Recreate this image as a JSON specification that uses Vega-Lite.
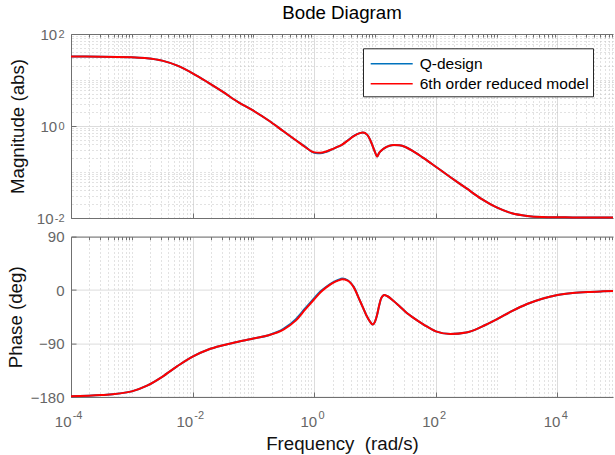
{
  "$schema": "https://vega.github.io/schema/vega-lite/v6.json",
  "background": "white",
  "padding": {"left": 6, "top": 4, "right": 0, "bottom": 0},
  "config": {
    "font": "Liberation Sans",
    "view": {"stroke": null},
    "axis": {"labelFont": "Liberation Sans", "titleFont": "Liberation Sans", "labelColor": "#666666", "labelFontSize": 15, "titleFontSize": 18.7, "titleFontWeight": "normal", "titleColor": "#111111", "domainColor": "#707070", "tickColor": "#707070", "gridColor": "#dcdcdc", "gridOpacity": 1, "labelFlush": false, "labelOverlap": false},
    "title": {"font": "Liberation Sans", "fontSize": 18.7, "fontWeight": "normal", "color": "#000000"}
  },
  "datasets": {
    "bode": [
      {"w": 0.0001, "mag": 32.3, "ph": -178.6, "model": "Q-design"},
      {"w": 0.000316, "mag": 32.2, "ph": -176.8, "model": "Q-design"},
      {"w": 0.001, "mag": 31.1, "ph": -170.5, "model": "Q-design"},
      {"w": 0.00178, "mag": 29.8, "ph": -161, "model": "Q-design"},
      {"w": 0.00316, "mag": 26.4, "ph": -146, "model": "Q-design"},
      {"w": 0.00562, "mag": 20.5, "ph": -128, "model": "Q-design"},
      {"w": 0.01, "mag": 14.0, "ph": -112, "model": "Q-design"},
      {"w": 0.0178, "mag": 8.9, "ph": -100.5, "model": "Q-design"},
      {"w": 0.0316, "mag": 5.5, "ph": -93, "model": "Q-design"},
      {"w": 0.0562, "mag": 3.3, "ph": -87, "model": "Q-design"},
      {"w": 0.1, "mag": 2.15, "ph": -81.5, "model": "Q-design"},
      {"w": 0.178, "mag": 1.32, "ph": -76, "model": "Q-design"},
      {"w": 0.316, "mag": 0.76, "ph": -65, "model": "Q-design"},
      {"w": 0.5, "mag": 0.49, "ph": -49, "model": "Q-design"},
      {"w": 0.708, "mag": 0.355, "ph": -31, "model": "Q-design"},
      {"w": 1.0, "mag": 0.262, "ph": -13.5, "model": "Q-design"},
      {"w": 1.26, "mag": 0.255, "ph": -2.5, "model": "Q-design"},
      {"w": 1.58, "mag": 0.275, "ph": 5.5, "model": "Q-design"},
      {"w": 2.0, "mag": 0.315, "ph": 12.5, "model": "Q-design"},
      {"w": 2.51, "mag": 0.36, "ph": 17.3, "model": "Q-design"},
      {"w": 2.88, "mag": 0.395, "ph": 19.5, "model": "Q-design"},
      {"w": 3.55, "mag": 0.485, "ph": 16.5, "model": "Q-design"},
      {"w": 4.47, "mag": 0.61, "ph": 5.5, "model": "Q-design"},
      {"w": 5.62, "mag": 0.70, "ph": -17.5, "model": "Q-design"},
      {"w": 6.31, "mag": 0.72, "ph": -29, "model": "Q-design"},
      {"w": 7.41, "mag": 0.65, "ph": -45, "model": "Q-design"},
      {"w": 8.32, "mag": 0.50, "ph": -53.5, "model": "Q-design"},
      {"w": 9.12, "mag": 0.37, "ph": -57.8, "model": "Q-design"},
      {"w": 10.0, "mag": 0.27, "ph": -53, "model": "Q-design"},
      {"w": 10.8, "mag": 0.218, "ph": -42, "model": "Q-design"},
      {"w": 11.7, "mag": 0.26, "ph": -26, "model": "Q-design"},
      {"w": 12.6, "mag": 0.29, "ph": -14, "model": "Q-design"},
      {"w": 14.3, "mag": 0.33, "ph": -8.4, "model": "Q-design"},
      {"w": 15.8, "mag": 0.355, "ph": -10, "model": "Q-design"},
      {"w": 20.0, "mag": 0.386, "ph": -18, "model": "Q-design"},
      {"w": 25.1, "mag": 0.38, "ph": -27, "model": "Q-design"},
      {"w": 31.6, "mag": 0.35, "ph": -36.4, "model": "Q-design"},
      {"w": 44.7, "mag": 0.27, "ph": -48, "model": "Q-design"},
      {"w": 63.1, "mag": 0.20, "ph": -58, "model": "Q-design"},
      {"w": 100, "mag": 0.13, "ph": -69.5, "model": "Q-design"},
      {"w": 174, "mag": 0.077, "ph": -74, "model": "Q-design"},
      {"w": 316, "mag": 0.0445, "ph": -71.5, "model": "Q-design"},
      {"w": 562, "mag": 0.026, "ph": -62, "model": "Q-design"},
      {"w": 1000, "mag": 0.017, "ph": -49.5, "model": "Q-design"},
      {"w": 1778, "mag": 0.0127, "ph": -35.5, "model": "Q-design"},
      {"w": 3162, "mag": 0.0111, "ph": -23.5, "model": "Q-design"},
      {"w": 5623, "mag": 0.0105, "ph": -14.5, "model": "Q-design"},
      {"w": 10000, "mag": 0.01035, "ph": -8.4, "model": "Q-design"},
      {"w": 17780, "mag": 0.0103, "ph": -5, "model": "Q-design"},
      {"w": 31620, "mag": 0.0102, "ph": -3.2, "model": "Q-design"},
      {"w": 56230, "mag": 0.0102, "ph": -2.2, "model": "Q-design"},
      {"w": 82000, "mag": 0.0102, "ph": -1.7, "model": "Q-design"},
      {"w": 0.0001, "mag": 32.3, "ph": -178.6, "model": "6th order reduced model"},
      {"w": 0.000316, "mag": 32.2, "ph": -176.8, "model": "6th order reduced model"},
      {"w": 0.001, "mag": 31.1, "ph": -170.5, "model": "6th order reduced model"},
      {"w": 0.00178, "mag": 29.8, "ph": -161, "model": "6th order reduced model"},
      {"w": 0.00316, "mag": 26.4, "ph": -146, "model": "6th order reduced model"},
      {"w": 0.00562, "mag": 20.5, "ph": -128, "model": "6th order reduced model"},
      {"w": 0.01, "mag": 14.0, "ph": -112, "model": "6th order reduced model"},
      {"w": 0.0178, "mag": 8.9, "ph": -100.5, "model": "6th order reduced model"},
      {"w": 0.0316, "mag": 5.5, "ph": -93, "model": "6th order reduced model"},
      {"w": 0.0562, "mag": 3.3, "ph": -87, "model": "6th order reduced model"},
      {"w": 0.1, "mag": 2.15, "ph": -81.5, "model": "6th order reduced model"},
      {"w": 0.178, "mag": 1.32, "ph": -76, "model": "6th order reduced model"},
      {"w": 0.316, "mag": 0.76, "ph": -66, "model": "6th order reduced model"},
      {"w": 0.5, "mag": 0.49, "ph": -51, "model": "6th order reduced model"},
      {"w": 0.708, "mag": 0.35, "ph": -33, "model": "6th order reduced model"},
      {"w": 1.0, "mag": 0.267, "ph": -15.5, "model": "6th order reduced model"},
      {"w": 1.26, "mag": 0.262, "ph": -4, "model": "6th order reduced model"},
      {"w": 1.58, "mag": 0.28, "ph": 4.5, "model": "6th order reduced model"},
      {"w": 2.0, "mag": 0.315, "ph": 11.8, "model": "6th order reduced model"},
      {"w": 2.51, "mag": 0.36, "ph": 16.3, "model": "6th order reduced model"},
      {"w": 2.88, "mag": 0.395, "ph": 18, "model": "6th order reduced model"},
      {"w": 3.55, "mag": 0.48, "ph": 15.8, "model": "6th order reduced model"},
      {"w": 4.47, "mag": 0.60, "ph": 4.5, "model": "6th order reduced model"},
      {"w": 5.62, "mag": 0.70, "ph": -17.5, "model": "6th order reduced model"},
      {"w": 6.31, "mag": 0.72, "ph": -29, "model": "6th order reduced model"},
      {"w": 7.41, "mag": 0.65, "ph": -45, "model": "6th order reduced model"},
      {"w": 8.32, "mag": 0.50, "ph": -53.5, "model": "6th order reduced model"},
      {"w": 9.12, "mag": 0.37, "ph": -57.8, "model": "6th order reduced model"},
      {"w": 10.0, "mag": 0.27, "ph": -53, "model": "6th order reduced model"},
      {"w": 10.8, "mag": 0.218, "ph": -42, "model": "6th order reduced model"},
      {"w": 11.7, "mag": 0.26, "ph": -26, "model": "6th order reduced model"},
      {"w": 12.6, "mag": 0.29, "ph": -14, "model": "6th order reduced model"},
      {"w": 14.3, "mag": 0.33, "ph": -8.4, "model": "6th order reduced model"},
      {"w": 15.8, "mag": 0.355, "ph": -10, "model": "6th order reduced model"},
      {"w": 20.0, "mag": 0.386, "ph": -18, "model": "6th order reduced model"},
      {"w": 25.1, "mag": 0.38, "ph": -27, "model": "6th order reduced model"},
      {"w": 31.6, "mag": 0.35, "ph": -36.4, "model": "6th order reduced model"},
      {"w": 44.7, "mag": 0.27, "ph": -48, "model": "6th order reduced model"},
      {"w": 63.1, "mag": 0.20, "ph": -58, "model": "6th order reduced model"},
      {"w": 100, "mag": 0.13, "ph": -69.5, "model": "6th order reduced model"},
      {"w": 174, "mag": 0.077, "ph": -74, "model": "6th order reduced model"},
      {"w": 316, "mag": 0.0445, "ph": -71.5, "model": "6th order reduced model"},
      {"w": 562, "mag": 0.026, "ph": -62, "model": "6th order reduced model"},
      {"w": 1000, "mag": 0.017, "ph": -49.5, "model": "6th order reduced model"},
      {"w": 1778, "mag": 0.0127, "ph": -35.5, "model": "6th order reduced model"},
      {"w": 3162, "mag": 0.0111, "ph": -23.5, "model": "6th order reduced model"},
      {"w": 5623, "mag": 0.0105, "ph": -14.5, "model": "6th order reduced model"},
      {"w": 10000, "mag": 0.01035, "ph": -8.4, "model": "6th order reduced model"},
      {"w": 17780, "mag": 0.0103, "ph": -5, "model": "6th order reduced model"},
      {"w": 31620, "mag": 0.0102, "ph": -3.2, "model": "6th order reduced model"},
      {"w": 56230, "mag": 0.0102, "ph": -2.2, "model": "6th order reduced model"},
      {"w": 82000, "mag": 0.0102, "ph": -1.7, "model": "6th order reduced model"}
    ]
  },
  "spacing": 18.6,
  "bounds": "flush",
  "resolve": {"legend": {"color": "independent"}},
  "vconcat": [
    {
      "width": 542,
      "height": 184,
      "title": {"text": "Bode Diagram", "anchor": "middle", "offset": 4},
      "data": {"name": "bode"},
      "layer": [
        {
          "mark": {"type": "line", "strokeWidth": 2, "interpolate": "monotone"},
          "encoding": {
            "x": {"field": "w", "type": "quantitative", "scale": {"type": "log", "domain": [0.0001, 82000], "nice": false},
                  "axis": {"orient": "bottom", "values": [0.0001, 0.01, 1, 100, 10000], "grid": true, "labels": false, "ticks": true, "tickSize": -5, "domain": true, "title": null}},
            "y": {"field": "mag", "type": "quantitative", "scale": {"type": "log", "domain": [0.01, 100], "nice": false},
                  "axis": {"orient": "left", "values": [0.01, 1, 100], "grid": true, "ticks": true, "tickSize": -5, "domain": true,
                           "labelPadding": {"condition": {"test": "datum.value < 0.1", "value": 23}, "value": 19.3},
                           "labelDy": 2, "labelExpr": "'10'",
                           "title": "Magnitude (abs)", "titlePadding": 9}},
            "color": {"field": "model", "type": "nominal",
                      "scale": {"domain": ["Q-design", "6th order reduced model"], "range": ["#0072BD", "#FF0000"]},
                      "legend": {"orient": "none", "legendX": 292, "legendY": 14.3, "title": null, "symbolType": "M-2,0L2,0", "symbolSize": 441, "symbolStrokeWidth": 1.5, "symbolOffset": 13.2, "labelFontSize": 15.5, "labelFont": "Liberation Sans", "labelColor": "#000000", "strokeColor": "#262626", "fillColor": "white", "padding": 4, "rowPadding": -2.3, "labelOffset": 16.5, "labelLimit": 400}}
          }
        },
        {
          "mark": {"type": "line", "opacity": 0},
          "encoding": {
            "x": {"field": "w", "type": "quantitative",
                  "axis": {"orient": "top", "values": [0.0002, 0.0003, 0.0004, 0.0005, 0.0006, 0.0007, 0.0008, 0.0009, 0.001, 0.002, 0.003, 0.004, 0.005, 0.006, 0.007, 0.008, 0.009, 0.02, 0.03, 0.04, 0.05, 0.06, 0.07, 0.08, 0.09, 0.1, 0.2, 0.3, 0.4, 0.5, 0.6, 0.7, 0.8, 0.9, 2, 3, 4, 5, 6, 7, 8, 9, 10, 20, 30, 40, 50, 60, 70, 80, 90, 200, 300, 400, 500, 600, 700, 800, 900, 1000, 2000, 3000, 4000, 5000, 6000, 7000, 8000, 9000, 20000, 30000, 40000, 50000, 60000, 70000, 80000],
                           "grid": true, "gridColor": "#c4c4c4", "gridDash": [1, 3], "labels": false, "ticks": true, "tickSize": -3, "domain": true, "title": null}},
            "y": {"field": "mag", "type": "quantitative",
                  "axis": {"orient": "right", "values": [0.02, 0.03, 0.04, 0.05, 0.06, 0.07, 0.08, 0.09, 0.1, 0.2, 0.3, 0.4, 0.5, 0.6, 0.7, 0.8, 0.9, 2, 3, 4, 5, 6, 7, 8, 9, 10, 20, 30, 40, 50, 60, 70, 80, 90],
                           "grid": true, "gridColor": "#c4c4c4", "gridDash": [1, 3], "labels": false, "ticks": false, "domain": false, "title": null}},
            "detail": {"field": "model"}
          }
        },
        {
          "mark": {"type": "line", "opacity": 0},
          "encoding": {
            "x": {"field": "w", "type": "quantitative", "axis": null},
            "y": {"field": "mag", "type": "quantitative",
                  "axis": {"orient": "left", "values": [0.01, 1, 100], "grid": false, "ticks": false, "domain": false,
                           "labelPadding": 7, "labelFontSize": 11, "labelDy": -5,
                           "labelExpr": "datum.value < 0.1 ? '-2' : datum.value < 10 ? '0' : '2'", "title": null}},
            "detail": {"field": "model"}
          }
        }
      ],
      "resolve": {"axis": {"x": "independent", "y": "independent"}}
    },
    {
      "width": 542,
      "height": 160.4,
      "data": {"name": "bode"},
      "layer": [
        {
          "mark": {"type": "line", "strokeWidth": 2, "interpolate": "monotone"},
          "encoding": {
            "x": {"field": "w", "type": "quantitative", "scale": {"type": "log", "domain": [0.0001, 82000], "nice": false},
                  "axis": {"orient": "bottom", "values": [0.0001, 0.01, 1, 100, 10000], "grid": true, "labels": true, "ticks": true, "tickSize": -5, "domain": true,
                           "labelPadding": 34.6, "labelBaseline": "alphabetic", "labelAlign": "right",
                           "labelOffset": {"condition": {"test": "datum.value < 0.5", "value": 0}, "value": 2.5},
                           "labelExpr": "'10'",
                           "title": "Frequency\u00a0 (rad/s)", "titlePadding": 5}},
            "y": {"field": "ph", "type": "quantitative", "scale": {"domain": [-180, 90], "nice": false},
                  "axis": {"orient": "left", "values": [-180, -90, 0, 90], "grid": true, "ticks": true, "tickSize": -5, "domain": true, "labelPadding": 12,
                           "title": "Phase (deg)", "titlePadding": 5}},
            "color": {"field": "model", "type": "nominal",
                      "scale": {"domain": ["Q-design", "6th order reduced model"], "range": ["#0072BD", "#FF0000"]},
                      "legend": null}
          }
        },
        {
          "mark": {"type": "line", "opacity": 0},
          "encoding": {
            "x": {"field": "w", "type": "quantitative",
                  "axis": {"orient": "top", "values": [0.0002, 0.0003, 0.0004, 0.0005, 0.0006, 0.0007, 0.0008, 0.0009, 0.001, 0.002, 0.003, 0.004, 0.005, 0.006, 0.007, 0.008, 0.009, 0.02, 0.03, 0.04, 0.05, 0.06, 0.07, 0.08, 0.09, 0.1, 0.2, 0.3, 0.4, 0.5, 0.6, 0.7, 0.8, 0.9, 2, 3, 4, 5, 6, 7, 8, 9, 10, 20, 30, 40, 50, 60, 70, 80, 90, 200, 300, 400, 500, 600, 700, 800, 900, 1000, 2000, 3000, 4000, 5000, 6000, 7000, 8000, 9000, 20000, 30000, 40000, 50000, 60000, 70000, 80000],
                           "grid": true, "gridColor": "#c4c4c4", "gridDash": [1, 3], "labels": false, "ticks": true, "tickSize": -3, "domain": true, "title": null}},
            "y": {"field": "ph", "type": "quantitative", "axis": null},
            "detail": {"field": "model"}
          }
        },
        {
          "mark": {"type": "line", "opacity": 0},
          "encoding": {
            "x": {"field": "w", "type": "quantitative",
                  "axis": {"orient": "bottom", "values": [0.0001, 0.01, 1, 100, 10000], "grid": false, "ticks": false, "domain": false,
                           "labelPadding": 21.6, "labelBaseline": "alphabetic", "labelAlign": "left", "labelFontSize": 11,
                           "labelOffset": {"condition": {"test": "datum.value < 0.5", "value": 1.2}, "value": 3.7},
                           "labelExpr": "datum.value < 0.001 ? '-4' : datum.value < 0.1 ? '-2' : datum.value < 10 ? '0' : datum.value < 1000 ? '2' : '4'",
                           "title": null}},
            "y": {"field": "ph", "type": "quantitative", "axis": null},
            "detail": {"field": "model"}
          }
        }
      ],
      "resolve": {"axis": {"x": "independent", "y": "independent"}}
    }
  ]
}
